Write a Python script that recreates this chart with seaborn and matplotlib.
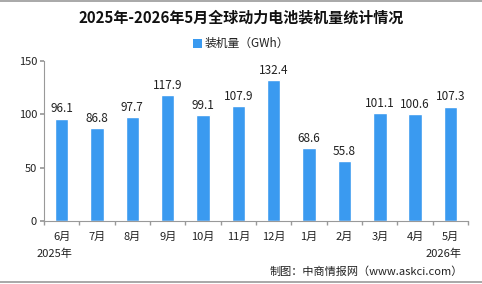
import numpy as np
import pandas as pd
import matplotlib
matplotlib.use("Agg")
import matplotlib.pyplot as plt
import seaborn as sns
from matplotlib.patches import Rectangle
from matplotlib.lines import Line2D

months = ["6月", "7月", "8月", "9月", "10月", "11月", "12月", "1月", "2月", "3月", "4月", "5月"]
values = [96.1, 86.8, 97.7, 117.9, 99.1, 107.9, 132.4, 68.6, 55.8, 101.1, 100.6, 107.3]
title = "2025年-2026年5月全球动力电池装机量统计情况"
series_name = "装机量（GWh）"

sns.set_theme(style="white")
plt.rcParams['font.family'] = ['Noto Sans CJK SC', 'DejaVu Sans']

df = pd.DataFrame({"month": months, "value": values})

fig = plt.figure(figsize=(4.82, 2.84), dpi=100)
ax = fig.add_axes([0.0913, 0.222, 0.880, 0.563])
bar_color = "#3A9AF0"
sns.barplot(data=df, x="month", y="value", color=bar_color, width=0.38,
            saturation=1, ax=ax)

for i, v in enumerate(values):
    ax.text(i, v + 3, f"{v:.1f}", ha="center", va="bottom", fontsize=8.5, color="#222222")

ax.set_ylim(0, 150)
ax.set_yticks([0, 50, 100, 150])
ax.set_xlim(-0.5, len(months) - 0.5)
ax.set_xlabel("")
ax.set_ylabel("")
for s in ["top", "right"]:
    ax.spines[s].set_visible(False)
for s in ["left", "bottom"]:
    ax.spines[s].set_color("#999999")
    ax.spines[s].set_linewidth(0.8)
ax.tick_params(axis="y", left=True, length=3, color="#999999", labelsize=8, pad=2, labelcolor="#222222")
ax.tick_params(axis="x", bottom=False, labelsize=8, pad=2, labelcolor="#222222")
# category boundary ticks
ax.set_xticks(np.arange(-0.5, len(months), 1.0), minor=True)
ax.tick_params(axis="x", which="minor", bottom=True, length=3, color="#999999")

fig.text(0.5, 0.937, title, ha="center", va="center", fontsize=10.8, fontweight="bold", color="#111111")
fig.patches.append(Rectangle((0.401, 0.83), 0.019, 0.032, transform=fig.transFigure,
                             facecolor=bar_color, edgecolor="none"))
fig.text(0.425, 0.847, series_name, ha="left", va="center", fontsize=8.5, color="#222222")

fig.text(0.114, 0.105, "2025年", ha="center", va="center", fontsize=8, color="#222222")
fig.text(0.92, 0.105, "2026年", ha="center", va="center", fontsize=8, color="#222222")
fig.text(0.96, 0.045, "制图：中商情报网（www.askci.com）", ha="right", va="center", fontsize=8, color="#222222")

fig.lines.append(Line2D([0, 1], [0.997, 0.997], transform=fig.transFigure, color="#999999", lw=1.2))
fig.lines.append(Line2D([0, 1], [0.006, 0.006], transform=fig.transFigure, color="#999999", lw=1.2))

fig.savefig("out.png", dpi=100)
